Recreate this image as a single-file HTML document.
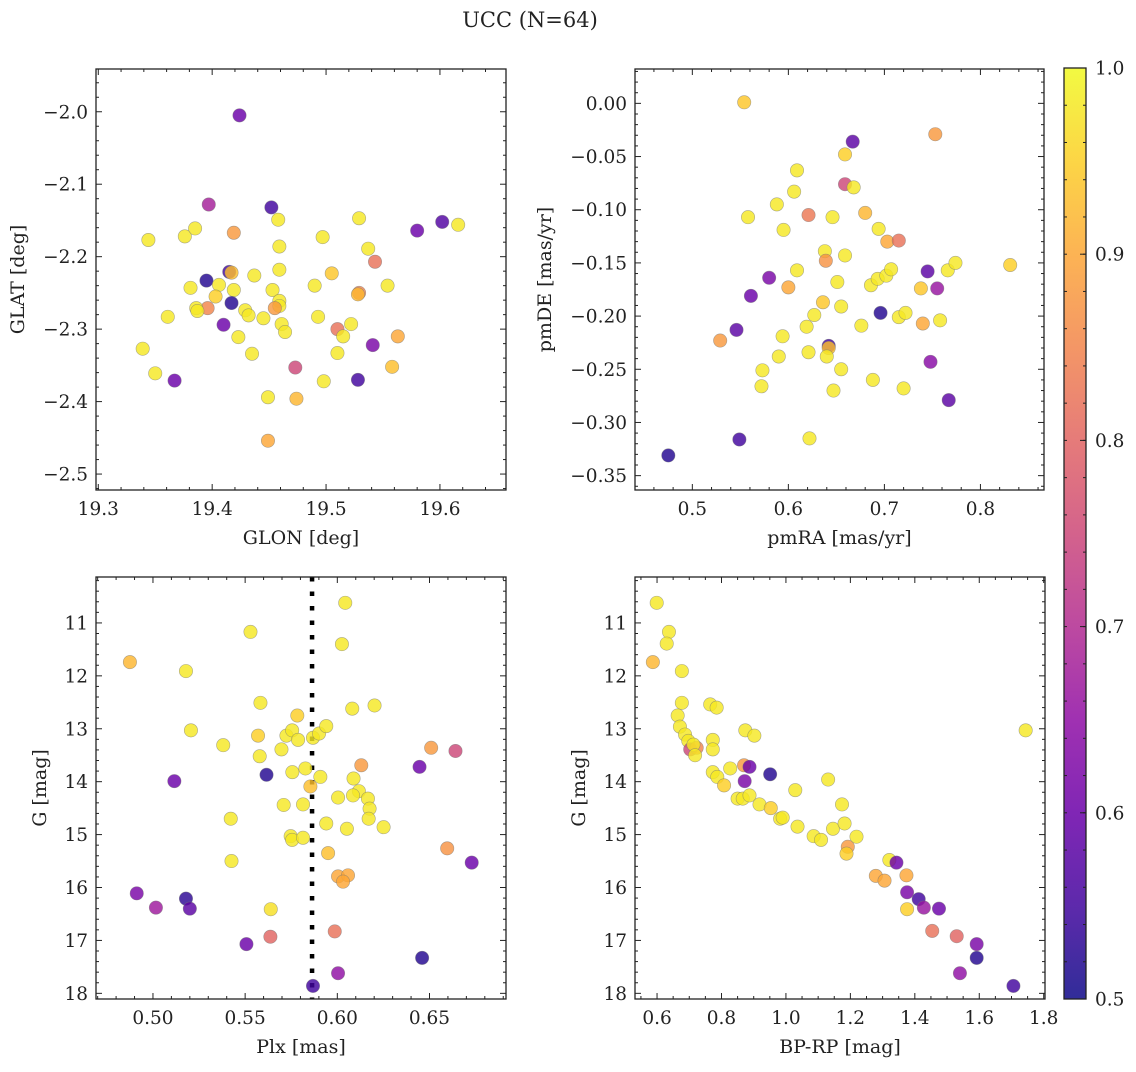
<!DOCTYPE html>
<html><head><meta charset="utf-8"><style>
html,body{margin:0;padding:0;background:#fff;}
svg text{font-family:"DejaVu Serif","Liberation Serif",serif;fill:#222;}
</style></head><body>
<svg id="fig" width="1136" height="1067" viewBox="0 0 1136 1067" xmlns="http://www.w3.org/2000/svg">
<rect width="1136" height="1067" fill="#fff"/>
<text x="530" y="27" font-size="21" text-anchor="middle">UCC (N=64)</text>
</svg>
<script>
// Panel 1: GLON vs GLAT
const p1x=[19.424,19.397,19.452,19.458,19.344,19.376,19.385,19.419,19.459,19.497,19.529,19.580,19.602,19.616,19.537,19.543,19.459,19.437,19.505,19.415,19.417,19.395,19.406,19.381,19.403,19.419,19.453,19.490,19.554,19.529,19.528,19.417,19.459,19.459,19.455,19.396,19.386,19.387,19.429,19.432,19.445,19.361,19.493,19.410,19.461,19.464,19.522,19.510,19.515,19.423,19.563,19.541,19.339,19.435,19.510,19.473,19.558,19.350,19.367,19.498,19.528,19.449,19.474,19.449];
const p1y=[-2.005,-2.128,-2.132,-2.149,-2.177,-2.172,-2.161,-2.167,-2.186,-2.173,-2.147,-2.164,-2.152,-2.156,-2.189,-2.207,-2.218,-2.226,-2.223,-2.221,-2.222,-2.233,-2.239,-2.243,-2.255,-2.246,-2.246,-2.240,-2.240,-2.250,-2.252,-2.264,-2.261,-2.268,-2.271,-2.271,-2.271,-2.275,-2.274,-2.281,-2.285,-2.283,-2.283,-2.294,-2.293,-2.304,-2.293,-2.300,-2.310,-2.311,-2.310,-2.322,-2.327,-2.334,-2.333,-2.353,-2.352,-2.361,-2.371,-2.372,-2.370,-2.394,-2.396,-2.454];
const p1c=[0.60,0.68,0.55,0.98,0.98,0.98,0.98,0.88,0.98,0.98,0.98,0.60,0.57,0.98,0.98,0.82,0.98,0.98,0.94,0.55,0.93,0.52,0.98,0.98,0.95,0.98,0.98,0.98,0.98,0.85,0.92,0.52,0.98,0.98,0.88,0.85,0.98,0.98,0.98,0.98,0.98,0.98,0.98,0.60,0.98,0.98,0.98,0.82,0.98,0.98,0.90,0.62,0.98,0.98,0.98,0.75,0.93,0.98,0.60,0.98,0.55,0.98,0.92,0.90];
// Panel 2: pmRA vs pmDE
const p2x=[0.554,0.753,0.667,0.659,0.609,0.659,0.668,0.606,0.588,0.558,0.621,0.646,0.680,0.595,0.694,0.703,0.715,0.638,0.639,0.659,0.609,0.580,0.600,0.561,0.651,0.686,0.693,0.702,0.707,0.738,0.745,0.755,0.766,0.774,0.831,0.636,0.655,0.696,0.627,0.619,0.676,0.715,0.722,0.740,0.758,0.546,0.529,0.594,0.621,0.642,0.642,0.640,0.590,0.573,0.655,0.572,0.688,0.647,0.720,0.748,0.767,0.549,0.622,0.475];
const p2y=[0.001,-0.029,-0.036,-0.048,-0.063,-0.076,-0.079,-0.083,-0.095,-0.107,-0.105,-0.107,-0.103,-0.119,-0.118,-0.130,-0.129,-0.139,-0.148,-0.143,-0.157,-0.164,-0.173,-0.181,-0.168,-0.171,-0.165,-0.162,-0.156,-0.174,-0.158,-0.174,-0.157,-0.150,-0.152,-0.187,-0.191,-0.197,-0.199,-0.210,-0.209,-0.201,-0.197,-0.207,-0.204,-0.213,-0.223,-0.219,-0.234,-0.228,-0.230,-0.238,-0.238,-0.251,-0.250,-0.266,-0.260,-0.270,-0.268,-0.243,-0.279,-0.316,-0.315,-0.331];
const p2c=[0.94,0.88,0.58,0.95,0.98,0.75,0.98,0.98,0.98,0.98,0.83,0.98,0.92,0.98,0.98,0.90,0.82,0.98,0.87,0.98,0.98,0.62,0.90,0.60,0.98,0.98,0.98,0.98,0.98,0.94,0.58,0.66,0.98,0.98,0.95,0.94,0.98,0.52,0.98,0.98,0.98,0.98,0.98,0.90,0.98,0.58,0.88,0.98,0.98,0.55,0.93,0.98,0.98,0.98,0.98,0.98,0.98,0.98,0.98,0.64,0.58,0.55,0.98,0.52];
// Panel 3: Plx vs G
const p3x=[0.6043,0.5529,0.6025,0.4875,0.5179,0.5583,0.6081,0.6202,0.5783,0.5206,0.5381,0.5570,0.5579,0.5697,0.5724,0.5755,0.5787,0.5868,0.5901,0.5940,0.5616,0.5756,0.5827,0.5908,0.5854,0.5116,0.5709,0.5814,0.5422,0.6004,0.6088,0.6117,0.6085,0.6166,0.6175,0.6170,0.6251,0.6052,0.5940,0.5747,0.5755,0.5814,0.5426,0.5950,0.6130,0.6509,0.6641,0.6446,0.6596,0.6729,0.6004,0.6058,0.6031,0.4912,0.5016,0.5179,0.5200,0.5639,0.5637,0.5507,0.5986,0.6460,0.6004,0.5868];
const p3y=[10.62,11.17,11.40,11.74,11.91,12.51,12.62,12.56,12.75,13.03,13.31,13.13,13.52,13.39,13.13,13.03,13.21,13.17,13.09,12.95,13.87,13.82,13.75,13.91,14.09,13.99,14.44,14.43,14.70,14.30,13.94,14.18,14.26,14.32,14.51,14.70,14.86,14.89,14.79,15.03,15.10,15.06,15.50,15.35,13.69,13.36,13.42,13.72,15.26,15.53,15.79,15.77,15.89,16.11,16.38,16.21,16.40,16.41,16.93,17.07,16.83,17.33,17.62,17.86];
const p3c=[0.98,0.98,0.98,0.92,0.98,0.98,0.98,0.98,0.95,0.98,0.98,0.95,0.98,0.98,0.98,0.98,0.98,0.98,0.98,0.98,0.52,0.98,0.98,0.98,0.93,0.60,0.98,0.98,0.98,0.98,0.98,0.98,0.98,0.98,0.98,0.98,0.98,0.98,0.98,0.98,0.98,0.98,0.98,0.93,0.88,0.88,0.75,0.60,0.87,0.60,0.90,0.90,0.90,0.62,0.67,0.53,0.58,0.97,0.80,0.60,0.82,0.52,0.65,0.55];
const plxMean=0.5863;
// Panel 4: BP-RP vs G
const p4x=[0.599,0.637,0.630,0.587,0.677,0.677,0.664,0.671,0.687,0.697,0.703,0.723,0.713,0.718,0.765,0.785,0.773,0.773,0.773,0.787,0.808,0.827,0.874,0.902,0.870,0.887,0.872,0.951,0.850,0.866,0.887,0.918,0.953,0.982,0.990,1.029,1.036,1.086,1.109,1.131,1.146,1.174,1.182,1.219,1.192,1.188,1.321,1.343,1.279,1.306,1.374,1.376,1.412,1.428,1.475,1.376,1.454,1.530,1.592,1.592,1.540,1.706,1.744];
const p4y=[10.62,11.17,11.39,11.74,11.91,12.51,12.75,12.96,13.11,13.23,13.39,13.36,13.30,13.50,12.54,12.60,13.21,13.39,13.82,13.91,14.07,13.75,13.03,13.13,13.69,13.72,13.99,13.86,14.32,14.32,14.26,14.43,14.50,14.70,14.68,14.16,14.85,15.03,15.10,13.96,14.89,14.43,14.79,15.04,15.23,15.36,15.48,15.53,15.78,15.87,15.77,16.09,16.22,16.38,16.40,16.41,16.82,16.92,17.07,17.33,17.62,17.86,13.03];
const p4c=[0.98,0.98,0.98,0.92,0.98,0.98,0.98,0.98,0.98,0.98,0.75,0.85,0.98,0.98,0.98,0.98,0.98,0.98,0.98,0.98,0.95,0.98,0.98,0.98,0.88,0.60,0.62,0.52,0.98,0.98,0.98,0.98,0.95,0.98,0.98,0.98,0.98,0.98,0.98,0.98,0.98,0.98,0.98,0.98,0.88,0.95,0.98,0.60,0.90,0.90,0.90,0.62,0.55,0.66,0.60,0.95,0.82,0.80,0.62,0.52,0.65,0.55,0.98];
// Colorbar
const cbTicks=[0.5,0.6,0.7,0.8,0.9,1.0];

const NS="http://www.w3.org/2000/svg";
const svg=document.getElementById('fig');
const TF=18.5, LF=19;
function mk(tag,attrs,parent){const e=document.createElementNS(NS,tag);for(const k in attrs)e.setAttribute(k,attrs[k]);(parent||svg).appendChild(e);return e;}
const stops=[[13,8,135],[65,4,157],[106,0,168],[143,13,164],[177,42,144],[204,71,120],[225,100,98],[242,132,75],[252,166,54],[252,206,37],[240,249,33]];
function plasma(v){let t=(v-0.5)/0.5;t=Math.max(0,Math.min(1,t));const f=t*10,i=Math.min(9,Math.floor(f)),r=f-i;const a=stops[i],b=stops[i+1];return `rgb(${Math.round(a[0]+(b[0]-a[0])*r)},${Math.round(a[1]+(b[1]-a[1])*r)},${Math.round(a[2]+(b[2]-a[2])*r)})`;}
function fmt(v,d){const s=Math.abs(v).toFixed(d);return (v<-1e-9?'\u2212':'')+s;}

function panel(o){
  const g=mk('g',{});
  
  
  const sx=v=>o.x0+(v-o.xd[0])/(o.xd[1]-o.xd[0])*(o.x1-o.x0);
  const sy=v=>o.y0+(v-o.yd[0])/(o.yd[1]-o.yd[0])*(o.y1-o.y0);
  const tg=mk('g',{stroke:'#222','stroke-width':1},g);
  function ticksX(step,minorN,dec){
    const lo=Math.min(o.xd[0],o.xd[1]),hi=Math.max(o.xd[0],o.xd[1]);
    const ms=step/minorN;
    for(let k=Math.ceil((lo-1e-9)/ms);k*ms<=hi+1e-9;k++){
      const v=k*ms,x=sx(v);const major=Math.abs(v/step-Math.round(v/step))<1e-6;
      const L=major?6:3;
      mk('line',{x1:x,x2:x,y1:o.y1,y2:o.y1-L},tg);mk('line',{x1:x,x2:x,y1:o.y0,y2:o.y0+L},tg);
      if(major){const t=mk('text',{x:x,y:o.y1+25,'font-size':TF,'text-anchor':'middle'},g);t.textContent=fmt(v,dec);
        
        }
    }
  }
  function ticksY(step,minorN,dec){
    const lo=Math.min(o.yd[0],o.yd[1]),hi=Math.max(o.yd[0],o.yd[1]);
    const ms=step/minorN;
    for(let k=Math.ceil((lo-1e-9)/ms);k*ms<=hi+1e-9;k++){
      const v=k*ms,y=sy(v);const major=Math.abs(v/step-Math.round(v/step))<1e-6;
      const L=major?6:3;
      mk('line',{x1:o.x0,x2:o.x0+L,y1:y,y2:y},tg);mk('line',{x1:o.x1,x2:o.x1-L,y1:y,y2:y},tg);
      if(major){const t=mk('text',{x:o.x0-8,y:y+6.5,'font-size':TF,'text-anchor':'end'},g);t.textContent=fmt(v,dec);
        
        }
    }
  }
  ticksX(o.xs,o.xm,o.xdec);ticksY(o.ys,o.ym,o.ydec);
  if(o.vline!==undefined){const l=mk('line',{x1:sx(o.vline),x2:sx(o.vline),y1:o.y0,y2:o.y1,stroke:'#000','stroke-width':4.5,'stroke-dasharray':'4.5 10'},g);
    
    }
  const pg=mk('g',{},g);
  for(let i=0;i<o.px.length;i++){
    const c=mk('circle',{cx:sx(o.px[i]),cy:sy(o.py[i]),r:6.7,fill:plasma(o.pc[i]),'fill-opacity':0.82,stroke:'#777','stroke-opacity':0.6,'stroke-width':0.6},pg);
    
    
  }
  mk('rect',{x:o.x0,y:o.y0,width:o.x1-o.x0,height:o.y1-o.y0,fill:'none',stroke:'#222','stroke-width':1.3},g);
  const xl=mk('text',{x:(o.x0+o.x1)/2,y:o.y1+54,'font-size':LF,'text-anchor':'middle'},g);xl.textContent=o.xl;
  
  
  const yx=o.ylx,yy=(o.y0+o.y1)/2;
  const yl=mk('text',{x:yx,y:yy,'font-size':LF,'text-anchor':'middle',transform:`rotate(-90 ${yx} ${yy})`},g);yl.textContent=o.yl;
  
  
}
panel({name:'glon-glat-panel',x0:96,x1:506,y0:69,y1:490,xd:[19.298,19.658],yd:[-1.941,-2.522],xs:0.1,xm:5,xdec:1,ys:0.1,ym:5,ydec:1,px:p1x,py:p1y,pc:p1c,xl:'GLON [deg]',yl:'GLAT [deg]',ylx:24});
panel({name:'pm-panel',x0:635,x1:1044,y0:69,y1:490,xd:[0.4403,0.8662],yd:[0.0323,-0.3635],xs:0.1,xm:5,xdec:1,ys:0.05,ym:5,ydec:2,px:p2x,py:p2y,pc:p2c,xl:'pmRA [mas/yr]',yl:'pmDE [mas/yr]',ylx:551});
panel({name:'plx-g-panel',x0:96,x1:506,y0:577,y1:999,xd:[0.4691,0.6915],yd:[10.132,18.107],xs:0.05,xm:5,xdec:2,ys:1,ym:5,ydec:0,px:p3x,py:p3y,pc:p3c,xl:'Plx [mas]',yl:'G [mag]',ylx:46,vline:plxMean});
panel({name:'cmd-panel',x0:635,x1:1045,y0:577,y1:999,xd:[0.5316,1.804],yd:[10.132,18.107],xs:0.2,xm:4,xdec:1,ys:1,ym:5,ydec:0,px:p4x,py:p4y,pc:p4c,xl:'BP-RP [mag]',yl:'G [mag]',ylx:585});

// colorbar
(function(){
  const x0=1064,x1=1086,y0=68,y1=999;
  const g=mk('g',{});
  
  
  const defs=mk('defs',{},g);
  const lg=mk('linearGradient',{id:'pl',x1:0,y1:1,x2:0,y2:0},defs);
  for(let i=0;i<=10;i++)mk('stop',{offset:i/10,'stop-color':plasma(0.5+i*0.05)},lg);
  mk('rect',{x:x0,y:y0,width:x1-x0,height:y1-y0,fill:'url(#pl)','fill-opacity':0.85},g);
  const sy=v=>y1-(v-0.5)/0.5*(y1-y0);
  for(let k=0;k<=25;k++){const v=0.5+k*0.02,y=sy(v);mk('line',{x1:x1,x2:x1-3,y1:y,y2:y,stroke:'#222','stroke-width':1},g);mk('line',{x1:x0,x2:x0+3,y1:y,y2:y,stroke:'#222','stroke-width':1},g);}
  for(const v of cbTicks){const y=sy(v);mk('line',{x1:x1,x2:x1-6,y1:y,y2:y,stroke:'#222','stroke-width':1},g);
    const t=mk('text',{x:x1+9,y:y+6.5,'font-size':TF},g);t.textContent=v.toFixed(1);
    
    }
  mk('rect',{x:x0,y:y0,width:x1-x0,height:y1-y0,fill:'none',stroke:'#222','stroke-width':1.3},g);
})();
</script>
</body></html>
